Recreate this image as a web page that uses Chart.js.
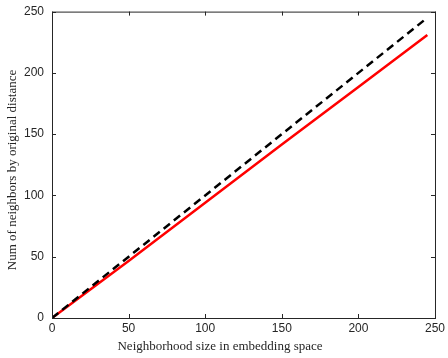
<!DOCTYPE html>
<html><head><meta charset="utf-8">
<script src="https://cdn.jsdelivr.net/npm/chart.js@4"></script>
<style>html,body{margin:0;padding:0;background:#fff;}#wrap{width:448px;height:358px;}</style>
</head><body><div id="wrap"><canvas id="c" width="448" height="358"></canvas></div>
<script>
const xTicks = [0, 50, 100, 150, 200, 250];
const yTicks = [0, 50, 100, 150, 200, 250];
const dashedX = [0, 245];
const dashedY = [0, 245];
const redX = [0, 50, 100, 150, 200, 245];
const redY = [0, 46.5, 94, 141.5, 188.5, 231];
const xTitle = "Neighborhood size in embedding space";
const yTitle = "Num of neighbors by original distance";

const boxPlugin = {
  id: 'box',
  afterDraw(chart) {
    const {ctx, chartArea: a, scales} = chart;
    ctx.save();
    ctx.strokeStyle = '#262626';
    ctx.lineWidth = 1;
    ctx.strokeRect(a.left + 0.5, a.top + 0.5, a.right - a.left, a.bottom - a.top);
    const L = 4;
    ctx.beginPath();
    xTicks.forEach(v => {
      const px = Math.round(scales.x.getPixelForValue(v)) + 0.5;
      ctx.moveTo(px, a.bottom); ctx.lineTo(px, a.bottom - L);
      ctx.moveTo(px, a.top); ctx.lineTo(px, a.top + L);
    });
    yTicks.forEach(v => {
      const py = Math.round(scales.y.getPixelForValue(v)) + 0.5;
      ctx.moveTo(a.left, py); ctx.lineTo(a.left + L, py);
      ctx.moveTo(a.right, py); ctx.lineTo(a.right - L, py);
    });
    ctx.stroke();
    ctx.fillStyle = '#262626';
    ctx.font = '13px "Liberation Serif", "Times New Roman", serif';
    ctx.textAlign = 'center';
    ctx.textBaseline = 'middle';
    ctx.fillText(xTitle, 220, 347);
    ctx.translate(13, 170);
    ctx.rotate(-Math.PI / 2);
    ctx.fillText(yTitle, 0, 0);
    ctx.restore();
  }
};

new Chart(document.getElementById('c'), {
  type: 'scatter',
  data: {
    datasets: [
      {
        data: dashedX.map((x, i) => ({x, y: dashedY[i]})),
        showLine: true, borderColor: '#000', borderWidth: 2.5,
        borderDash: [8, 5], pointRadius: 0, fill: false
      },
      {
        data: redX.map((x, i) => ({x, y: redY[i]})),
        showLine: true, borderColor: '#ff0000', borderWidth: 2.5,
        pointRadius: 0, fill: false
      }
    ]
  },
  options: {
    responsive: false, animation: false,
    layout: {padding: {left: 0, right: 6, top: 11, bottom: 0}},
    plugins: {legend: {display: false}, tooltip: {enabled: false}},
    scales: {
      x: {
        type: 'linear', min: 0, max: 250,
        afterBuildTicks: s => { s.ticks = xTicks.map(v => ({value: v})); },
        afterFit: s => { s.height = 40; },
        grid: {display: false, drawTicks: false},
        border: {display: false},
        ticks: {color: '#262626', font: {family: '"Liberation Sans", Arial, sans-serif', size: 12}, padding: 3, maxRotation: 0}
      },
      y: {
        type: 'linear', min: 0, max: 250,
        afterBuildTicks: s => { s.ticks = yTicks.map(v => ({value: v})); },
        afterFit: s => { s.width = 52; },
        grid: {display: false, drawTicks: false},
        border: {display: false},
        ticks: {color: '#262626', font: {family: '"Liberation Sans", Arial, sans-serif', size: 12, lineHeight: 0.6}, padding: 8}
      }
    }
  },
  plugins: [boxPlugin]
});
</script></body></html>
